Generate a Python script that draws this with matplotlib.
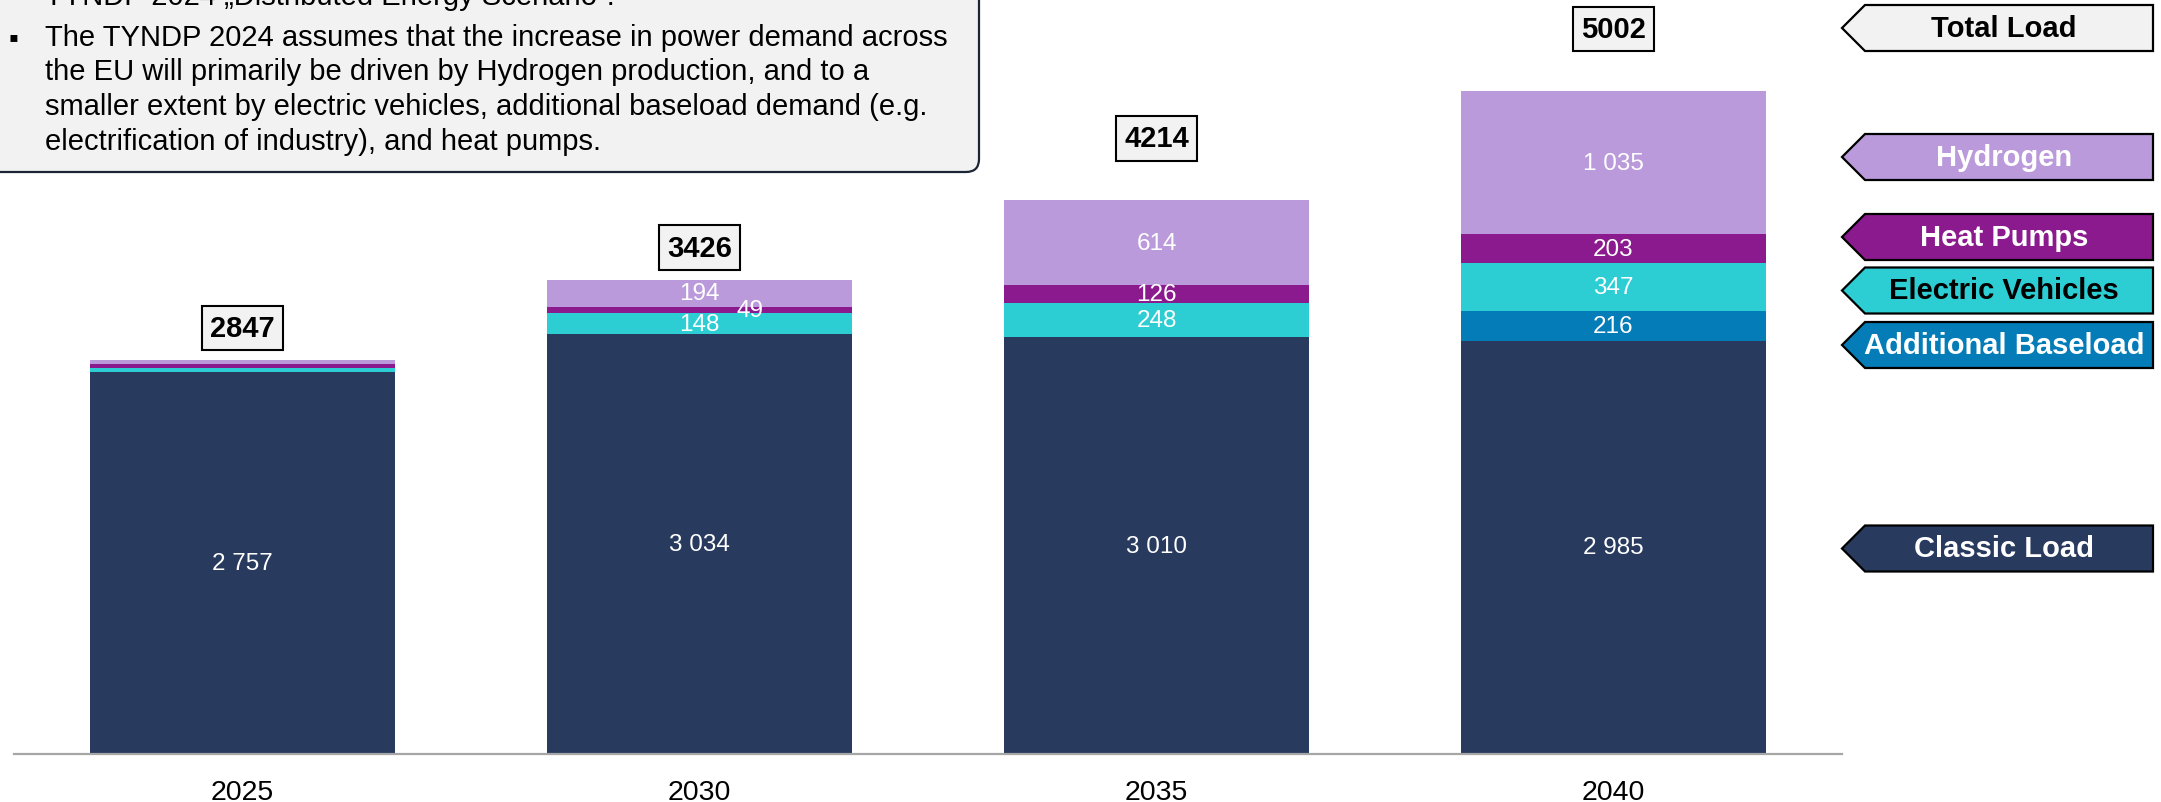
import matplotlib
matplotlib.use('Agg')
import matplotlib.pyplot as plt
from matplotlib.patches import Polygon, FancyBboxPatch

plt.rcParams['font.family'] = ['Liberation Sans', 'DejaVu Sans']

# ── data (TWh) ──────────────────────────────
years = ['2025', '2030', '2035', '2040']
classic = [2757, 3034, 3010, 2985]
baseload = [0, 0, 0, 216]
ev = [29, 148, 248, 347]
heat_pumps = [27, 49, 126, 203]
hydrogen = [34, 194, 614, 1035]
totals = [2847, 3426, 4214, 5002]

series = [
    ('Classic Load', classic, '#283A5E'),
    ('Additional Baseload', baseload, '#037CB8'),
    ('Electric Vehicles', ev, '#2CCDD3'),
    ('Heat Pumps', heat_pumps, '#8B1A8F'),
    ('Hydrogen', hydrogen, '#BA9ADA'),
]

tags = [
    ('Total Load', '#F2F2F2', 'black', 29),
    ('Hydrogen', '#BA9ADA', 'white', 158),
    ('Heat Pumps', '#8B1A8F', 'white', 238),
    ('Electric Vehicles', '#2CCDD3', 'black', 291.5),
    ('Additional Baseload', '#037CB8', 'white', 346),
    ('Classic Load', '#283A5E', 'white', 549.5),
]

W, H = 2161, 803
fig = plt.figure(figsize=(W / 100, H / 100), dpi=100)
fig.patch.set_facecolor('white')

# main bar axes: baseline at y=755 px, 0.1385 px per TWh
ax = fig.add_axes([14 / W, 48 / H, 1828 / W, 755 / H])
ax.set_xlim(-0.5, 3.5)
ax.set_ylim(0, 755 / 0.1385)

x = range(len(years))
bottom = [0] * len(years)
for name, vals, col in series:
    ax.bar(x, vals, width=0.667, bottom=bottom, color=col, linewidth=0)
    for i, v in enumerate(vals):
        if v >= 45:
            dx = 0.11 if v < 100 else 0
            ax.text(i + dx, bottom[i] + v / 2, f'{v:,}'.replace(',', ' '),
                    ha='center', va='center', color='white', fontsize=17.5)
    bottom = [b + v for b, v in zip(bottom, vals)]

for i, t in enumerate(totals):
    ax.annotate(str(t), (i, t), xytext=(0, 23), textcoords='offset points',
                ha='center', va='center', fontsize=21, fontweight='bold',
                bbox=dict(boxstyle='square,pad=0.28', fc='#F2F2F2',
                          ec='black', lw=1.5))

for s in ['top', 'right', 'left']:
    ax.spines[s].set_visible(False)
ax.spines['bottom'].set_color('#A6A6A6')
ax.spines['bottom'].set_linewidth(1.6)
ax.set_yticks([])
ax.set_xticks(list(x))
ax.set_xticklabels(years, fontsize=20.5)
ax.tick_params(axis='x', length=0, pad=18)

# overlay in pixel coordinates for the note box and the tags
ov = fig.add_axes([0, 0, 1, 1], zorder=5)
ov.set_xlim(0, W)
ov.set_ylim(H, 0)
ov.axis('off')
ov.patch.set_alpha(0)

box = FancyBboxPatch((-30, -30), 1009, 203,
                     boxstyle='round,pad=0,rounding_size=13',
                     fc='#F2F2F2', ec='#1C2536', lw=1.6)
ov.add_patch(box)
ov.text(45, 5, 'TYNDP 2024 „Distributed Energy Scenario“.',
        fontsize=21, va='baseline', ha='left')
note = ['The TYNDP 2024 assumes that the increase in power demand across',
        'the EU will primarily be driven by Hydrogen production, and to a',
        'smaller extent by electric vehicles, additional baseload demand (e.g.',
        'electrification of industry), and heat pumps.']
ov.text(8, 46, '▪', fontsize=20, va='baseline', ha='left')
for k, line in enumerate(note):
    ov.text(45, 46 + k * 34.5, line, fontsize=21, va='baseline', ha='left')

for label, fc, tc, yc in tags:
    h = 23
    pts = [(1842, yc), (1865, yc - h), (2153, yc - h),
           (2153, yc + h), (1865, yc + h)]
    ov.add_patch(Polygon(pts, closed=True, fc=fc, ec='black', lw=1.6))
    ov.text(2004, yc, label, ha='center', va='center', color=tc,
            fontsize=21, fontweight='bold')

fig.savefig('out.png', dpi=100)
